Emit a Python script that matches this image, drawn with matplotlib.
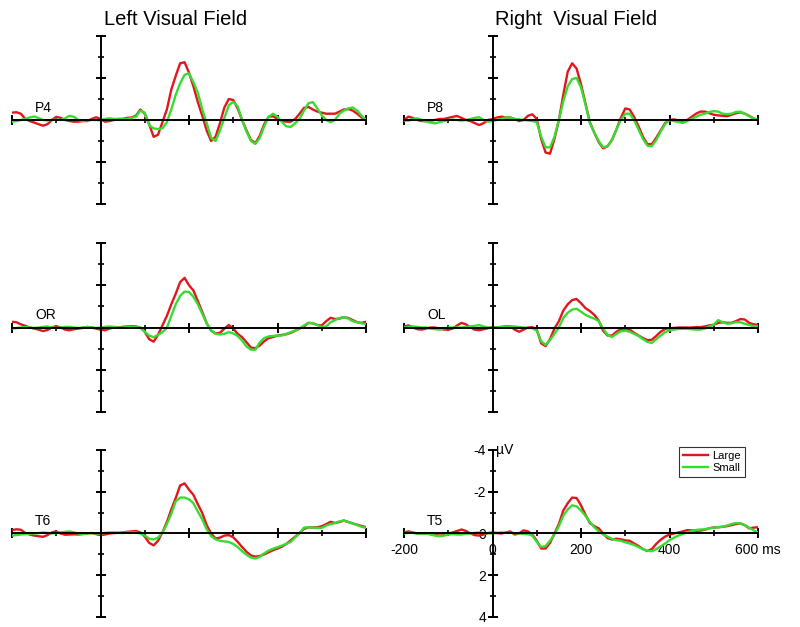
import numpy as np
import matplotlib
matplotlib.use("Agg")
import matplotlib.pyplot as plt

plt.rcParams['font.family'] = ['Liberation Sans', 'DejaVu Sans']

# time base (ms), one sample every 10 ms
times = np.arange(-200, 601, 10)

# amplitudes in microvolts (negative plotted upwards)
p4_large = [-0.35, -0.37, -0.3, -0.05, 0.05, 0.12, 0.2, 0.27, 0.2, 0.0,
            -0.15, -0.1, 0.0, 0.05, 0.08, 0.08, 0.05, 0.05, -0.05, -0.13,
            -0.05, 0.08, 0.05, 0.0, -0.05, -0.05, -0.1, -0.12, -0.2, -0.5,
            -0.3, 0.2, 0.8, 0.7, 0.1, -0.5, -1.45, -2.1, -2.7, -2.75,
            -2.25, -1.6, -0.85, -0.2, 0.5, 1.0, 0.8, 0.15, -0.6, -1.0,
            -0.95, -0.55, 0.0, 0.5, 0.95, 1.1, 0.75, 0.2, -0.15, -0.18,
            -0.05, 0.05, 0.08, 0.08, -0.05, -0.3, -0.58, -0.62, -0.5, -0.4,
            -0.35, -0.3, -0.3, -0.3, -0.4, -0.5, -0.52, -0.45, -0.3, -0.12,
            0.0]
p4_small = [0.08, 0.05, 0.0, -0.05, -0.12, -0.17, -0.1, 0.0, 0.02, 0.0,
            -0.02, 0.0, -0.08, -0.2, -0.15, 0.0, 0.05, 0.02, 0.0, 0.0,
            0.02, -0.05, -0.08, -0.05, -0.05, -0.05, -0.05, -0.1, -0.15, -0.45,
            -0.35, 0.25, 0.4, 0.43, 0.4, 0.1, -0.5, -1.2, -1.75, -2.15,
            -2.22, -1.8, -1.3, -0.5, 0.15, 0.85, 1.0, 0.5, -0.1, -0.7,
            -0.87, -0.65, 0.0, 0.55, 1.0, 1.14, 0.85, 0.3, -0.15, -0.3,
            -0.15, 0.1, 0.3, 0.33, 0.15, -0.05, -0.45, -0.8, -0.85, -0.55,
            -0.22, 0.0, 0.1, 0.0, -0.3, -0.45, -0.55, -0.6, -0.45, -0.2,
            0.0]

p8_large = [0.0, -0.16, -0.1, 0.0, 0.05, 0.05, 0.03, 0.0, -0.05, -0.05,
            -0.1, -0.15, -0.19, -0.1, 0.0, 0.05, 0.15, 0.24, 0.15, 0.0,
            -0.05, -0.12, -0.16, -0.12, -0.12, -0.05, 0.05, 0.0, -0.2, -0.27,
            -0.05, 0.9, 1.55, 1.6, 0.9, 0.0, -1.2, -2.3, -2.7, -2.45,
            -1.7, -0.8, 0.1, 0.6, 1.05, 1.35, 1.25, 0.95, 0.45, -0.1,
            -0.55, -0.5, -0.15, 0.3, 0.8, 1.15, 1.15, 0.85, 0.5, 0.15,
            0.0, -0.03, 0.02, 0.06, 0.0, -0.15, -0.3, -0.4, -0.4, -0.32,
            -0.25, -0.22, -0.2, -0.18, -0.25, -0.32, -0.37, -0.3, -0.2, -0.08,
            0.0]
p8_small = [0.03, 0.03, -0.05, -0.08, 0.0, 0.08, 0.12, 0.16, 0.1, 0.05,
            0.0, -0.02, 0.0, 0.03, 0.0, -0.05, -0.1, -0.13, 0.0, 0.08,
            0.05, 0.0, -0.05, -0.13, -0.1, -0.05, -0.03, 0.0, 0.02, 0.05,
            0.1, 0.8, 1.3, 1.3, 0.8, 0.0, -0.9, -1.6, -1.95, -2.0,
            -1.55, -0.75, 0.15, 0.6, 1.0, 1.3, 1.25, 0.95, 0.45, 0.0,
            -0.3, -0.3, 0.0, 0.45, 0.9, 1.22, 1.25, 0.95, 0.55, 0.2,
            0.0, 0.05, 0.1, 0.14, 0.05, -0.05, -0.15, -0.25, -0.3, -0.38,
            -0.42, -0.4, -0.3, -0.28, -0.3, -0.38, -0.4, -0.3, -0.18, -0.07,
            0.0]

or_large = [-0.27, -0.25, -0.15, -0.08, 0.0, 0.05, 0.1, 0.17, 0.12, 0.0,
            -0.06, 0.0, 0.1, 0.13, 0.08, 0.05, 0.02, -0.03, 0.0, 0.05,
            0.1, 0.13, 0.05, 0.0, 0.0, -0.03, -0.05, -0.06, -0.05, 0.0,
            0.2, 0.55, 0.67, 0.35, -0.1, -0.55, -1.1, -1.6, -2.15, -2.35,
            -2.0, -1.75, -1.25, -0.73, -0.2, 0.15, 0.28, 0.25, 0.05, -0.12,
            0.05, 0.3, 0.46, 0.7, 0.95, 0.98, 0.85, 0.65, 0.5, 0.45,
            0.38, 0.35, 0.32, 0.25, 0.15, 0.05, -0.05, -0.22, -0.2, -0.12,
            -0.1, -0.3, -0.46, -0.4, -0.42, -0.49, -0.45, -0.35, -0.25, -0.22,
            -0.27]
or_small = [0.05, 0.03, 0.0, -0.02, 0.0, 0.02, 0.0, -0.03, -0.05, 0.0,
            0.02, 0.0, -0.03, -0.03, 0.0, 0.02, 0.0, -0.02, 0.0, 0.02,
            0.0, -0.03, -0.05, -0.03, 0.0, 0.0, -0.02, -0.03, -0.02, 0.0,
            0.2, 0.38, 0.46, 0.35, 0.22, 0.02, -0.55, -1.1, -1.5, -1.7,
            -1.68, -1.45, -1.1, -0.65, -0.2, 0.12, 0.3, 0.33, 0.3, 0.22,
            0.28, 0.4, 0.62, 0.9, 1.05, 1.05, 0.7, 0.5, 0.42, 0.4,
            0.38, 0.38, 0.3, 0.22, 0.14, 0.05, -0.1, -0.22, -0.2, -0.12,
            -0.02, -0.05, -0.25, -0.35, -0.45, -0.49, -0.42, -0.3, -0.25, -0.2,
            -0.16]

ol_large = [-0.05, -0.1, 0.0, 0.08, 0.1, 0.05, 0.0, 0.0, 0.05, 0.1,
            0.1, 0.05, -0.1, -0.22, -0.15, 0.0, 0.1, 0.13, 0.08, 0.03,
            -0.02, 0.0, -0.03, -0.05, -0.06, 0.1, 0.2, 0.1, 0.0, -0.02,
            0.1, 0.75, 0.88, 0.55, 0.05, -0.3, -0.8, -1.1, -1.3, -1.35,
            -1.15, -0.92, -0.78, -0.6, -0.33, 0.15, 0.38, 0.38, 0.2, 0.08,
            0.08, 0.1, 0.25, 0.38, 0.5, 0.6, 0.58, 0.4, 0.2, 0.07,
            0.03, 0.02, 0.0, 0.0, 0.0, 0.0, -0.02, -0.02, -0.05, -0.1,
            -0.13, -0.22, -0.25, -0.22, -0.22, -0.3, -0.4, -0.38, -0.22, -0.15,
            -0.13]
ol_small = [0.0, -0.03, -0.05, -0.03, 0.0, 0.0, 0.05, 0.08, 0.1, 0.05,
            0.0, 0.0, 0.0, 0.0, -0.02, -0.05, -0.08, -0.11, -0.05, 0.0,
            0.0, 0.0, -0.02, -0.03, -0.05, -0.05, -0.02, 0.0, 0.02, 0.03,
            0.15, 0.65, 0.82, 0.6, 0.3, 0.0, -0.45, -0.7, -0.85, -0.89,
            -0.75, -0.6, -0.5, -0.42, -0.3, 0.05, 0.35, 0.45, 0.3, 0.18,
            0.15, 0.2, 0.3, 0.4, 0.55, 0.68, 0.73, 0.55, 0.38, 0.22,
            0.14, 0.1, 0.07, 0.06, 0.06, 0.08, 0.1, 0.1, 0.05, -0.05,
            -0.13, -0.35, -0.25, -0.18, -0.2, -0.25, -0.25, -0.18, -0.12, -0.06,
            -0.06]

t6_large = [-0.16, -0.2, -0.18, -0.02, 0.05, 0.1, 0.13, 0.16, 0.08, -0.05,
            -0.1, 0.0, 0.06, 0.05, 0.04, 0.05, 0.03, 0.0, -0.02, 0.03,
            0.08, 0.05, 0.0, -0.02, -0.03, -0.05, -0.08, -0.1, -0.12, -0.05,
            0.15, 0.45, 0.57, 0.35, -0.05, -0.55, -1.15, -1.7, -2.3, -2.4,
            -2.1, -1.85, -1.4, -0.98, -0.4, 0.0, 0.24, 0.2, 0.1, 0.08,
            0.18, 0.4, 0.65, 0.88, 1.05, 1.11, 1.08, 1.0, 0.9, 0.8,
            0.72, 0.63, 0.5, 0.33, 0.15, -0.02, -0.22, -0.3, -0.29, -0.3,
            -0.35, -0.45, -0.56, -0.5, -0.55, -0.62, -0.55, -0.48, -0.42, -0.36,
            -0.3]
t6_small = [0.1, 0.08, 0.05, 0.03, 0.02, 0.0, -0.02, -0.05, -0.03, 0.0,
            -0.02, -0.05, -0.08, -0.1, -0.05, 0.0, 0.02, 0.0, -0.02, 0.0,
            0.0, -0.03, -0.05, -0.05, -0.03, -0.02, -0.05, -0.05, -0.05, 0.0,
            0.1, 0.25, 0.29, 0.2, -0.05, -0.45, -0.95, -1.54, -1.72, -1.72,
            -1.64, -1.45, -1.05, -0.67, -0.2, 0.13, 0.28, 0.35, 0.38, 0.41,
            0.5, 0.65, 0.85, 1.02, 1.15, 1.2, 1.12, 0.95, 0.82, 0.73,
            0.66, 0.58, 0.5, 0.4, 0.18, -0.02, -0.28, -0.3, -0.28, -0.27,
            -0.27, -0.38, -0.45, -0.5, -0.58, -0.62, -0.55, -0.48, -0.4, -0.32,
            -0.27]

t5_large = [-0.05, -0.1, -0.05, 0.0, 0.0, 0.0, 0.03, 0.06, 0.1, 0.08,
            0.0, -0.05, -0.12, -0.19, -0.12, 0.0, 0.08, 0.1, 0.05, -0.02,
            -0.05, -0.02, 0.0, -0.05, -0.1, 0.05, 0.0, -0.15, -0.1, 0.05,
            0.35, 0.72, 0.72, 0.45, 0.0, -0.45, -1.1, -1.45, -1.72, -1.7,
            -1.35, -0.9, -0.5, -0.35, -0.25, 0.0, 0.22, 0.29, 0.25, 0.28,
            0.33, 0.35, 0.48, 0.6, 0.75, 0.84, 0.75, 0.5, 0.3, 0.15,
            0.05, 0.0, -0.05, -0.1, -0.16, -0.15, -0.13, -0.14, -0.18, -0.25,
            -0.29, -0.3, -0.32, -0.35, -0.4, -0.45, -0.48, -0.4, -0.25, -0.28,
            -0.3]
t5_small = [0.0, -0.03, -0.03, 0.0, 0.02, 0.0, 0.05, 0.1, 0.13, 0.1,
            0.05, 0.03, 0.05, 0.05, 0.02, 0.0, -0.03, -0.05, -0.03, 0.0,
            0.0, -0.03, -0.05, -0.03, -0.03, -0.02, 0.0, 0.02, 0.03, 0.1,
            0.4, 0.65, 0.6, 0.35, 0.05, -0.35, -0.85, -1.15, -1.35, -1.3,
            -1.1, -0.85, -0.55, -0.3, -0.1, 0.05, 0.15, 0.26, 0.32, 0.35,
            0.42, 0.48, 0.55, 0.65, 0.75, 0.83, 0.85, 0.75, 0.62, 0.48,
            0.32, 0.2, 0.1, 0.02, -0.05, -0.12, -0.17, -0.19, -0.2, -0.25,
            -0.28, -0.3, -0.32, -0.38, -0.45, -0.5, -0.48, -0.4, -0.28, -0.15,
            -0.05]

RED = '#e2161c'
GREEN = '#36dd30'

# name, large, small, [left, bottom, width, height]
panels = [
    ('P4', p4_large, p4_small, [0.015, 0.6746, 0.4425, 0.268]),
    ('P8', p8_large, p8_small, [0.505, 0.6746, 0.4425, 0.268]),
    ('OR', or_large, or_small, [0.015, 0.3429, 0.4425, 0.2695]),
    ('OL', ol_large, ol_small, [0.505, 0.3429, 0.4425, 0.2695]),
    ('T6', t6_large, t6_small, [0.015, 0.016, 0.4425, 0.2663]),
    ('T5', t5_large, t5_small, [0.505, 0.016, 0.4425, 0.2663]),
]

fig = plt.figure(figsize=(8, 6.27), dpi=100)

for i, (name, large, small, rect) in enumerate(panels):
    ax = fig.add_axes(rect)
    ax.patch.set_alpha(0)
    ax.plot(times, large, color=RED, lw=1.7, label='Large')
    ax.plot(times, small, color=GREEN, lw=1.7, label='Small')
    ax.set_xlim(-200, 600)
    ax.set_ylim(4, -4)

    for side in ['top', 'right']:
        ax.spines[side].set_visible(False)
    ax.spines['left'].set_position(('data', 0))
    ax.spines['bottom'].set_position(('data', 0))
    ax.spines['left'].set_linewidth(1.4)
    ax.spines['bottom'].set_linewidth(1.4)

    ax.set_xticks([-200, 0, 200, 400, 600])
    ax.set_xticks([-100, 100, 300, 500], minor=True)
    ax.set_yticks([-4, -2, 0, 2, 4])
    ax.set_yticks([-3, -1, 1, 3], minor=True)
    ax.tick_params(which='major', direction='inout', length=7, width=1.4)
    ax.tick_params(which='minor', direction='inout', length=4.5, width=1.2)

    ax.text(-148, -0.4, name, fontsize=10, ha='left', va='baseline')

    if name == 'T5':
        ax.set_xticklabels(['-200', '0', '200', '400', '600 ms'], fontsize=10)
        ax.set_yticklabels(['-4', '-2', '0', '2', '4'], fontsize=10)
        ax.tick_params(axis='x', pad=3)
        ax.tick_params(axis='y', pad=1)
        ax.text(8, -4, 'µV', fontsize=10, ha='left', va='center')
        leg = ax.legend(loc='upper right', bbox_to_anchor=(0.9625, 1.02),
                        fontsize=8, frameon=True, fancybox=False,
                        handlelength=2.3, borderpad=0.35, labelspacing=0.2,
                        handletextpad=0.35, borderaxespad=0)
        leg.get_frame().set_edgecolor('black')
        leg.get_frame().set_linewidth(0.8)
    else:
        ax.tick_params(labelbottom=False, labelleft=False)

fig.text(0.219, 0.969, 'Left Visual Field', fontsize=14.5, ha='center', va='center')
fig.text(0.72, 0.969, 'Right  Visual Field', fontsize=14.5, ha='center', va='center')

fig.savefig('out.png', dpi=100)
